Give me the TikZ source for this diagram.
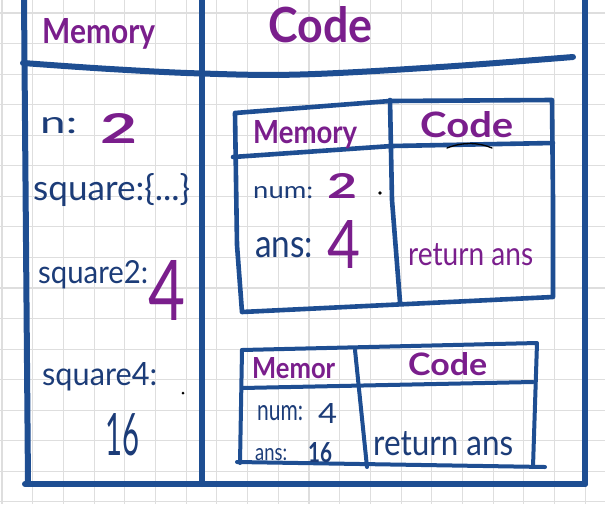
\documentclass[tikz,border=0pt]{standalone}
\usepackage{fontspec}
\setmainfont{Lato}
\usepackage{graphicx}
\definecolor{lineblue}{HTML}{1E4E92}
\definecolor{ink}{HTML}{1C3C78}
\definecolor{purp}{HTML}{7A1E8C}
\definecolor{gridc}{HTML}{DEDEDE}
\newcommand\fitt[3]{\resizebox{#1pt}{#2pt}{#3}}
\tikzset{
  gridline/.style={gridc, line width=1.1pt},
  frame/.style={lineblue, line width=6pt, line cap=round, line join=round},
  innerA/.style={lineblue, line width=4.6pt, line cap=round, line join=round},
  innerB/.style={lineblue, line width=4pt, line cap=round, line join=round},
  head/.style={text=purp, inner sep=0pt, anchor=base west, font=\bfseries},
  val/.style={text=purp, inner sep=0pt, anchor=base west},
  lab/.style={text=ink, inner sep=0pt, anchor=base west},
}
\begin{document}
\begin{tikzpicture}[x=1pt,y=-1pt]
\useasboundingbox (0,0) rectangle (605,504);
\fill[white] (0,0) rectangle (605,504);
% grid paper
\foreach \i in {0,...,19} {\draw[gridline] (2+30.7*\i,0) -- (2+30.7*\i,504);}
\foreach \j in {0,...,16} {\draw[gridline] (0,13+30.55*\j) -- (605,13+30.55*\j);}

% main frame
\coordinate (tl) at (24,0);
\coordinate (bl) at (28,484);
\coordinate (tr) at (585,0);
\coordinate (br) at (585,484);
\coordinate (tm) at (202,0);
\coordinate (bm) at (202,484);
\draw[frame] (tl) -- (bl);
\draw[frame] (tr) -- (br);
\draw[frame] (tm) -- (bm);
\draw[frame] (25,484) -- (br);
\draw[frame] plot[smooth, tension=0.6] coordinates {(23,63) (110,69) (202,73.5) (300,74.5) (440,67) (573,57)};

% inner box 1
\coordinate (a1) at (235,113);
\coordinate (a2) at (552,100);
\coordinate (a3) at (553,297);
\coordinate (a4) at (242,312);
\draw[innerA] (a1) -- (390,101) -- (a2) -- (553,200) -- (a3) -- (a4) -- (237,245) -- cycle;
\draw[innerA] (233,157) -- (392,146) -- (553,143);
\draw[innerA] (390,100) -- (392,200) -- (400,302);
\draw[black, line width=1.3pt, line cap=round] (447,148) .. controls (462,142) and (478,142) .. (492,148);

% inner box 2
\coordinate (b1) at (242,350);
\coordinate (b2) at (537,343);
\coordinate (b3) at (533,467);
\coordinate (b4) at (240,463);
\draw[innerB] (b1) -- (b2) -- (b3);
\draw[innerB] (b1) -- (b4);
\draw[innerB] (237,462) -- (545,467);
\draw[innerB] (242,388) -- (533,382);
\draw[innerB] (355,350) -- (367,467);

% top headings
\node[head] (memT) at (42,43) {\fitt{113}{25}{Memory}};
\node[head] (codeT) at (268,42) {\fitt{104}{36}{Code}};

% left column
\node[lab] (nlab) at (40,133) {\fitt{37}{16}{n:}};
\node[val] (nval) at (100,143) {\fitt{37}{30}{\bfseries 2}};
\node[lab] (sq) at (33,200) {\fitt{157}{27}{square:\{...\}}};
\node[lab] (sq2) at (38,283) {\fitt{110}{23}{square2:}};
\node[val] (sq2v) at (148,320) {\fitt{37}{60}{4}};
\node[lab] (sq4) at (42,385) {\fitt{115}{23}{square4:}};
\node[lab] (sq4v) at (105,455) {\fitt{34}{42}{16}};
\fill[black] (183,393) circle (1.5);

% box 1 text
\node[head] (m1) at (253,143) {\fitt{104}{23}{Memory}};
\node[head] (c1) at (420,137) {\fitt{93}{26}{Code}};
\node[lab] (num1) at (253,198) {\fitt{60}{12}{num:}};
\node[val] (num1v) at (327,198) {\fitt{30}{25}{\bfseries 2}};
\fill[black] (380,193) circle (1.8);
\node[lab] (ans1) at (255,257) {\fitt{58}{20}{ans:}};
\node[val] (ans1v) at (327,268) {\fitt{33}{48}{4}};
\node[val] (ret1) at (408,265) {\fitt{125}{22}{return ans}};

% box 2 text
\node[head] (m2) at (252,378) {\fitt{83}{21}{Memor}};
\node[head] (c2) at (408,375) {\fitt{79}{23}{Code}};
\node[lab] (num2) at (257,420) {\fitt{46}{15}{num:}};
\node[lab] (num2v) at (318,423) {\fitt{19}{20}{4}};
\node[lab] (ans2) at (255,460) {\fitt{32}{12}{ans:}};
\node[lab] (ans2v) at (308,462) {\fitt{24}{20}{\bfseries 16}};
\node[lab] (ret2) at (373,455) {\fitt{140}{24}{return ans}};
\end{tikzpicture}
\end{document}
